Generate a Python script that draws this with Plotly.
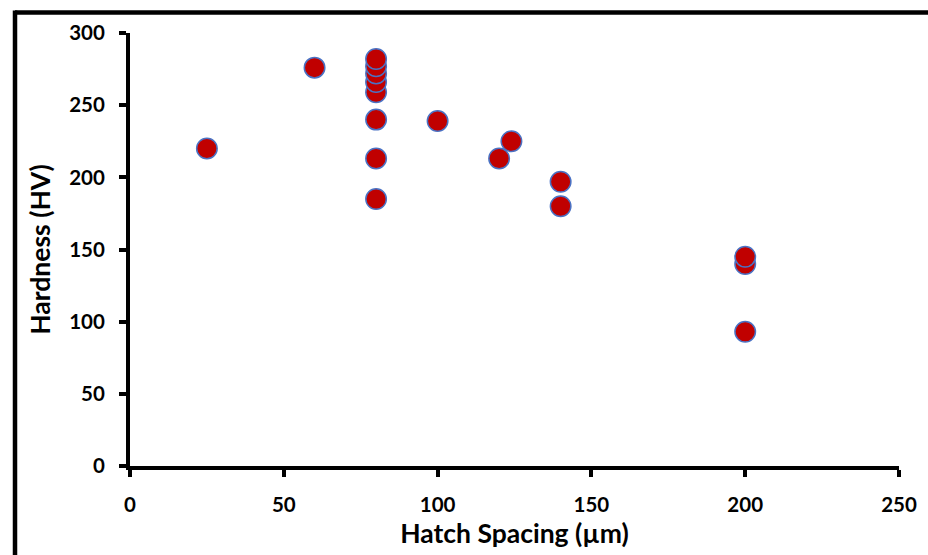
import plotly.graph_objects as go

hatch_spacing = [25, 60, 80, 80, 80, 80, 80, 80, 80, 80, 100, 124, 120, 140, 140, 200, 200, 200]
hardness = [220, 276, 185, 213, 240, 259, 266, 272, 277, 282, 239, 225, 213, 197, 180, 93, 140, 145]

x_ticks = [0, 50, 100, 150, 200, 250]
y_ticks = [0, 50, 100, 150, 200, 250, 300]

W, H = 928, 555
L, R, T, B = 130, 29, 33, 89
pw, ph = W - L - R, H - T - B

def px(xp):
    return (xp - L) / pw

def py(yp):
    return (H - B - yp) / ph

FONT = "Lato"

fig = go.Figure()
fig.add_trace(go.Scatter(
    x=hatch_spacing, y=hardness, mode="markers",
    marker=dict(size=20.5, color="#C00000", line=dict(color="#4A72C4", width=1.5)),
    showlegend=False, cliponaxis=False,
))

axis_common = dict(
    showline=True, linecolor="black", linewidth=4,
    ticks="outside", ticklen=7, tickwidth=4, tickcolor="black",
    showgrid=False, zeroline=False,
    tickfont=dict(family=FONT, size=20.5, color="black", weight="bold"),
)

fig.update_layout(
    width=W, height=H,
    margin=dict(l=L, r=R, t=T, b=B, autoexpand=False),
    paper_bgcolor="white", plot_bgcolor="white",
    font=dict(family=FONT, color="black"),
    xaxis=dict(range=[0, 250], tickvals=x_ticks, ticklabelstandoff=10,
               title=dict(text="<b>Hatch Spacing (µm)</b>", font=dict(family=FONT, size=26.5, color="black"), standoff=11),
               **axis_common),
    yaxis=dict(range=[0, 300], tickvals=y_ticks, ticklabelstandoff=10,
               title=dict(text="<b>Hardness (HV)</b>", font=dict(family=FONT, size=26.5, color="black"), standoff=12),
               **axis_common),
    shapes=[
        dict(type="line", xref="paper", yref="paper", x0=px(15), x1=px(940), y0=py(12.5), y1=py(12.5),
             line=dict(color="black", width=4.5)),
        dict(type="line", xref="paper", yref="paper", x0=px(15), x1=px(15), y0=py(10.5), y1=py(570),
             line=dict(color="black", width=4.5)),
    ],
)

fig.write_html("out.html", config={"displayModeBar": False},
               post_script="document.body.style.margin='0px';document.body.style.overflow='hidden';")
